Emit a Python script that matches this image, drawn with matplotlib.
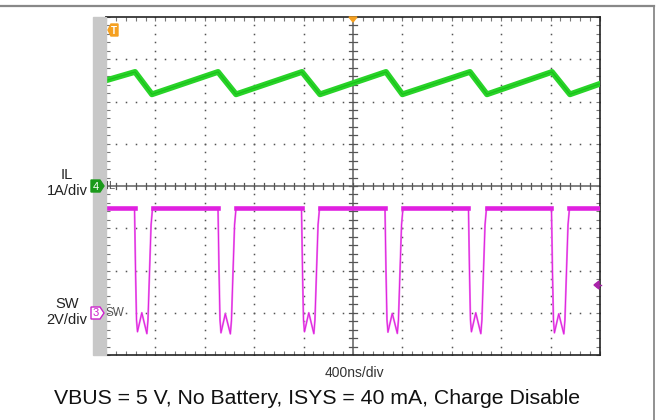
import numpy as np
import matplotlib
matplotlib.use("Agg")
import matplotlib.pyplot as plt
from matplotlib.patches import Polygon, Rectangle
from matplotlib.lines import Line2D

plt.rcParams['font.family'] = ['Liberation Sans', 'DejaVu Sans']

# scope settings
time_per_div = 400      # ns/div
il_scale = 1.0          # A/div
sw_scale = 2.0          # V/div
il_ref_div = 4.0        # channel 4 reference (div from bottom)
sw_ref_div = 1.0        # channel 3 reference

# inductor current IL (ns, A)
il_t = [0, 235, 372, 907, 1053, 1587, 1733, 2267, 2400, 2947, 3085, 3611, 3757, 4000]
il_a = [2.50, 2.70, 2.17, 2.70, 2.17, 2.70, 2.17, 2.70, 2.17, 2.70, 2.17, 2.70, 2.17, 2.42]

# switch node SW (ns, V)
sw_t = [0,
        231, 239, 247, 255, 290, 331, 340, 353, 365, 377,
        907, 915, 923, 931, 966, 1007, 1016, 1029, 1041, 1053,
        1583, 1591, 1599, 1607, 1642, 1683, 1692, 1705, 1717, 1729,
        2259, 2267, 2275, 2283, 2318, 2359, 2368, 2381, 2393, 2405,
        2935, 2943, 2951, 2959, 2994, 3035, 3044, 3057, 3069, 3081,
        3607, 3615, 3623, 3631, 3666, 3707, 3716, 3729, 3741, 3753,
        4000]
sw_v = [4.96,
        4.96, 2.03, -0.33, -0.90, 0.00, -0.99, -0.33, 2.03, 4.16, 4.96,
        4.96, 2.03, -0.33, -0.95, -0.05, -1.00, -0.35, 2.03, 4.16, 4.96,
        4.96, 2.03, -0.33, -0.90, 0.00, -0.99, -0.33, 2.03, 4.16, 4.96,
        4.96, 2.03, -0.33, -0.92, -0.03, -0.98, -0.34, 2.03, 4.16, 4.96,
        4.96, 2.03, -0.33, -0.90, 0.00, -0.99, -0.33, 2.03, 4.16, 4.96,
        4.96, 2.03, -0.33, -0.95, -0.05, -1.00, -0.35, 2.03, 4.16, 4.96,
        4.96]

caption = "VBUS = 5 V, No Battery, ISYS = 40 mA, Charge Disable"

W, H = 658, 420
fig = plt.figure(figsize=(W / 100, H / 100), dpi=100)


def fx(px):
    return px / W


def fy(py):
    return 1 - py / H


def fpoly(pts, **kw):
    p = Polygon([(fx(a), fy(b)) for a, b in pts], closed=True,
                transform=fig.transFigure, **kw)
    fig.patches.append(p)


L, R, T, B = 106, 600, 17, 355
ax = fig.add_axes([fx(L), fy(B), fx(R - L), (B - T) / H])
ax.set_xlim(0, 10 * time_per_div)
ax.set_ylim(0, 8)

# grid dots
gx = np.arange(0, 10 * time_per_div + 1, time_per_div / 5)
gy = np.arange(0, 8.01, 0.2)
for k in range(1, 10):
    if k == 5:
        continue
    ax.plot(np.full_like(gy, k * time_per_div), gy, ls='none', marker='s',
            ms=1.1, mew=0, color='#555555', zorder=1)
for k in range(1, 8):
    if k == 4:
        continue
    ax.plot(gx, np.full_like(gx, k), ls='none', marker='s', ms=1.1, mew=0,
            color='#555555', zorder=1)

# center crosshair
ax.axvline(5 * time_per_div, color='#777777', lw=1.3, zorder=2)
ax.axhline(4, color='#777777', lw=1.3, zorder=2)
for xv in gx:
    ax.plot([xv, xv], [3.93, 4.07], color='#555555', lw=0.9, zorder=2)
for yv in gy:
    ax.plot([5 * time_per_div - 32, 5 * time_per_div + 32], [yv, yv],
            color='#555555', lw=0.9, zorder=2)

# traces
il_y = il_ref_div + np.array(il_a) / il_scale
ax.plot(il_t, il_y, color='#28d428', lw=4.2, solid_joinstyle='round', zorder=4)
ax.plot(il_t, il_y, color='#10b010', lw=0.8, alpha=0.6, zorder=5)

sw_y = sw_ref_div + np.array(sw_v) / sw_scale
sw_hi = np.where(np.array(sw_v) > 4.5, sw_y, np.nan)
ax.plot(sw_t, sw_y, color='#f080f0', lw=1.4, zorder=4)
ax.plot(sw_t, sw_y, color='#dd22dd', lw=0.7, zorder=5)
ax.plot(sw_t, sw_hi, color='#e020e0', lw=3.3, zorder=5)

# frame and ticks
for s in ax.spines.values():
    s.set_color('#222222')
    s.set_linewidth(1.2)
ax.set_xticks(gx)
ax.set_yticks(gy)
ax.tick_params(direction='in', length=3, width=0.8, color='#777777',
               top=True, right=True, labelbottom=False, labelleft=False)

# gray band at left
fig.patches.append(Rectangle((fx(93), fy(B)), fx(13), (B - T) / H,
                             transform=fig.transFigure, color='#c8c8c8', zorder=0))

# outer frame lines
fig.add_artist(Line2D([0, fx(654)], [fy(6), fy(6)], color='#888888', lw=1.6))
fig.add_artist(Line2D([fx(654), fx(654)], [fy(6), 0], color='#888888', lw=1.3))

# channel markers
fpoly([(91, 180), (100, 180), (104, 186), (100, 192), (91, 192)],
      facecolor='#1a9a1a', edgecolor='#1a9a1a', zorder=5)
fig.text(fx(96), fy(186.5), '4', color='white', fontsize=8, ha='center',
         va='center', zorder=10)
fpoly([(91, 307), (100, 307), (104, 313), (100, 319), (91, 319)],
      facecolor='white', edgecolor='#cc22cc', lw=1, zorder=5)
fig.text(fx(96), fy(313.5), '3', color='#cc22cc', fontsize=8, ha='center',
         va='center', zorder=10)
fig.text(fx(106), fy(186), 'IL', color='#555555', fontsize=8, ha='left',
         va='center', zorder=10)
fig.text(fx(106), fy(313), 'SW', color='#555555', fontsize=8.5, ha='left',
         va='center', zorder=10)

# trigger markers
fpoly([(108, 30), (111, 24), (118, 24), (118, 36), (111, 36)],
      facecolor='#f5a020', edgecolor='#f5a020', zorder=5)
fig.text(fx(113.5), fy(30.5), 'T', color='white', fontsize=7, ha='center',
         va='center', fontweight='bold', zorder=10)
fpoly([(349, 17), (357, 17), (353, 22)], facecolor='#f5a020',
      edgecolor='#f5a020', zorder=5)
fpoly([(594, 285), (599, 281), (599, 289)], facecolor='#aa22aa',
      edgecolor='#aa22aa', zorder=5)
fig.add_artist(Line2D([fx(597), fx(601)], [fy(285), fy(285)], color='#aa22aa', lw=1))

# channel labels
fig.text(fx(67), fy(183), 'IL\n1A/div', fontsize=10.5, ha='center', va='center',
         color='#222222', linespacing=1.1)
fig.text(fx(67), fy(312), 'SW\n2V/div', fontsize=10.5, ha='center', va='center',
         color='#222222', linespacing=1.1)

fig.text(fx(354), fy(373), '%dns/div' % time_per_div, fontsize=10,
         ha='center', va='center', color='#333333')
fig.text(fx(317), fy(398), caption, fontsize=15.3, ha='center', va='center',
         color='#111111')

fig.savefig('out.png', dpi=100)
